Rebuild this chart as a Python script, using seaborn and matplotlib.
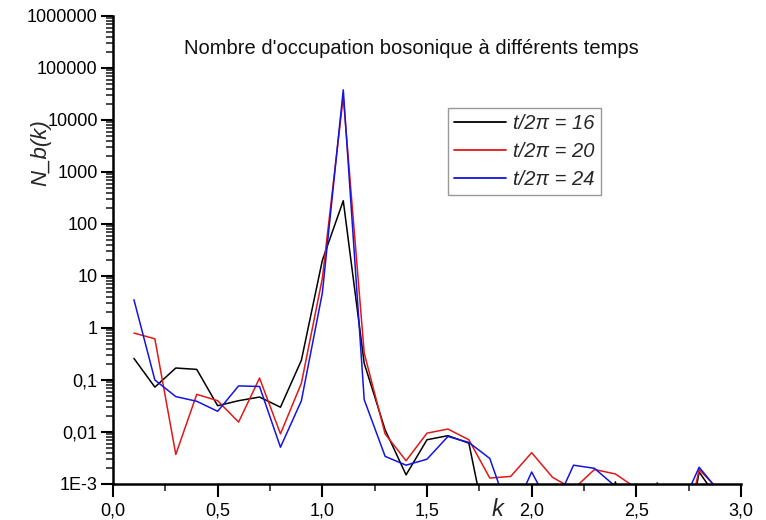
import numpy as np
import pandas as pd
import matplotlib
matplotlib.use("Agg")
import matplotlib.pyplot as plt
import seaborn as sns
from matplotlib.ticker import FixedLocator, NullFormatter, MultipleLocator

# ---------------- data ----------------
k_values = [0.1, 0.2, 0.3, 0.4, 0.5, 0.6, 0.7, 0.8, 0.9, 1.0,
            1.1, 1.2, 1.3, 1.4, 1.5, 1.6, 1.7, 1.8, 1.9, 2.0,
            2.1, 2.2, 2.3, 2.4, 2.5, 2.6, 2.7, 2.8, 2.9]

n_t16 = [0.26, 0.073, 0.17, 0.16, 0.032, 0.040, 0.047, 0.030, 0.24, 20,
         280, 0.21, 0.011, 0.0015, 0.0071, 0.0085, 0.0061, 6.6e-5, 1e-5, 1e-5,
         1e-5, 1e-5, 1e-5, 1.1e-3, 1e-5, 1.05e-3, 1e-5, 0.0017, 4.5e-4]

n_t20 = [0.80, 0.62, 0.0037, 0.053, 0.040, 0.0155, 0.109, 0.0092, 0.087, 9,
         28000, 0.33, 0.0092, 0.0028, 0.0095, 0.0114, 0.0071, 0.0013, 0.0014, 0.0040,
         0.00134, 8e-4, 0.0019, 0.00156, 8.3e-4, 1e-5, 2.6e-5, 0.0019, 7.2e-4]

n_t24 = [3.5, 0.10, 0.048, 0.039, 0.025, 0.077, 0.075, 0.0051, 0.040, 4.7,
         38000, 0.042, 0.0034, 0.0023, 0.0030, 0.0082, 0.0063, 0.0031, 2.2e-4, 0.0017,
         3e-4, 0.0023, 0.0020, 9e-4, 1e-5, 1e-5, 2.7e-4, 0.0021, 6.8e-4]

series_labels = ["t/2\u03c0 = 16", "t/2\u03c0 = 20", "t/2\u03c0 = 24"]
series_colors = ["#000000", "#e01818", "#1414e0"]

title_text = "Nombre d'occupation bosonique \u00e0 diff\u00e9rents temps"
x_label = "k"
y_label = "N_b(k)"

x_ticks = [0.0, 0.5, 1.0, 1.5, 2.0, 2.5, 3.0]
x_tick_labels = ["0,0", "0,5", "1,0", "1,5", "2,0", "2,5", "3,0"]
y_ticks = [1e-3, 1e-2, 1e-1, 1, 10, 100, 1000, 10000, 100000, 1000000]
y_tick_labels = ["1E-3", "0,01", "0,1", "1", "10", "100", "1000",
                 "10000", "100000", "1000000"]

# ---------------- frame ----------------
frames = []
for lab, vals in zip(series_labels, [n_t16, n_t20, n_t24]):
    frames.append(pd.DataFrame({"k": k_values, "N": vals, "series": lab}))
df = pd.concat(frames, ignore_index=True)

sns.set_theme(style="ticks")
plt.rcParams["font.family"] = ["Liberation Sans", "DejaVu Sans"]

fig = plt.figure(figsize=(7.66, 5.20), dpi=100)
ax = fig.add_axes([113 / 766, 1 - 484 / 520, (741 - 113) / 766, (484 - 16) / 520])

sns.lineplot(data=df, x="k", y="N", hue="series", palette=series_colors,
             hue_order=series_labels, estimator=None, sort=False,
             linewidth=1.1, ax=ax, legend=True)

ax.set_yscale("log")
ax.set_xlim(0, 3.0)
ax.set_ylim(1e-3, 1e6)

ax.set_xticks(x_ticks)
ax.set_xticklabels(x_tick_labels)
ax.xaxis.set_minor_locator(MultipleLocator(0.25))
ax.set_yticks(y_ticks)
ax.set_yticklabels(y_tick_labels)
minor_y = [m * 10.0 ** e for e in range(-3, 6) for m in range(2, 10)]
ax.yaxis.set_minor_locator(FixedLocator(minor_y))
ax.yaxis.set_minor_formatter(NullFormatter())

ax.tick_params(axis="both", which="major", direction="out", length=9, width=1.5,
               labelsize=13, colors="black")
ax.tick_params(axis="both", which="minor", direction="out", length=5, width=1.2)
ax.tick_params(axis="x", which="major", pad=4)
ax.tick_params(axis="y", which="major", pad=2)

for side in ["top", "right"]:
    ax.spines[side].set_visible(False)
for side in ["left", "bottom"]:
    ax.spines[side].set_linewidth(1.8)
    ax.spines[side].set_color("black")

ax.set_xlabel(x_label, fontsize=17, style="italic")
ax.xaxis.set_label_coords((498 - 113) / 628, (484 - 509) / 468)
ax.xaxis.label.set_va("center")
ax.set_ylabel(y_label, fontsize=16, style="italic")
ax.yaxis.set_label_coords((41 - 113) / 628, (484 - 153) / 468)
ax.yaxis.label.set_va("center")

ax.text((411 - 113) / 628, (484 - 48) / 468, title_text, transform=ax.transAxes,
        ha="center", va="center", fontsize=14.5, color="#111111")

handles, labels = ax.get_legend_handles_labels()
leg = ax.legend(handles, labels, loc="upper left",
                bbox_to_anchor=((448 - 113) / 628, (484 - 108) / 468),
                borderaxespad=0, fancybox=False, frameon=True,
                handlelength=2.6, handletextpad=0.35, labelspacing=0.45,
                borderpad=0.3, prop={"size": 14.5, "style": "italic"})
leg.get_frame().set_edgecolor("#808080")
leg.get_frame().set_linewidth(1.0)
for line in leg.get_lines():
    line.set_linewidth(1.3)

fig.savefig("out.png", dpi=100, facecolor="white")
